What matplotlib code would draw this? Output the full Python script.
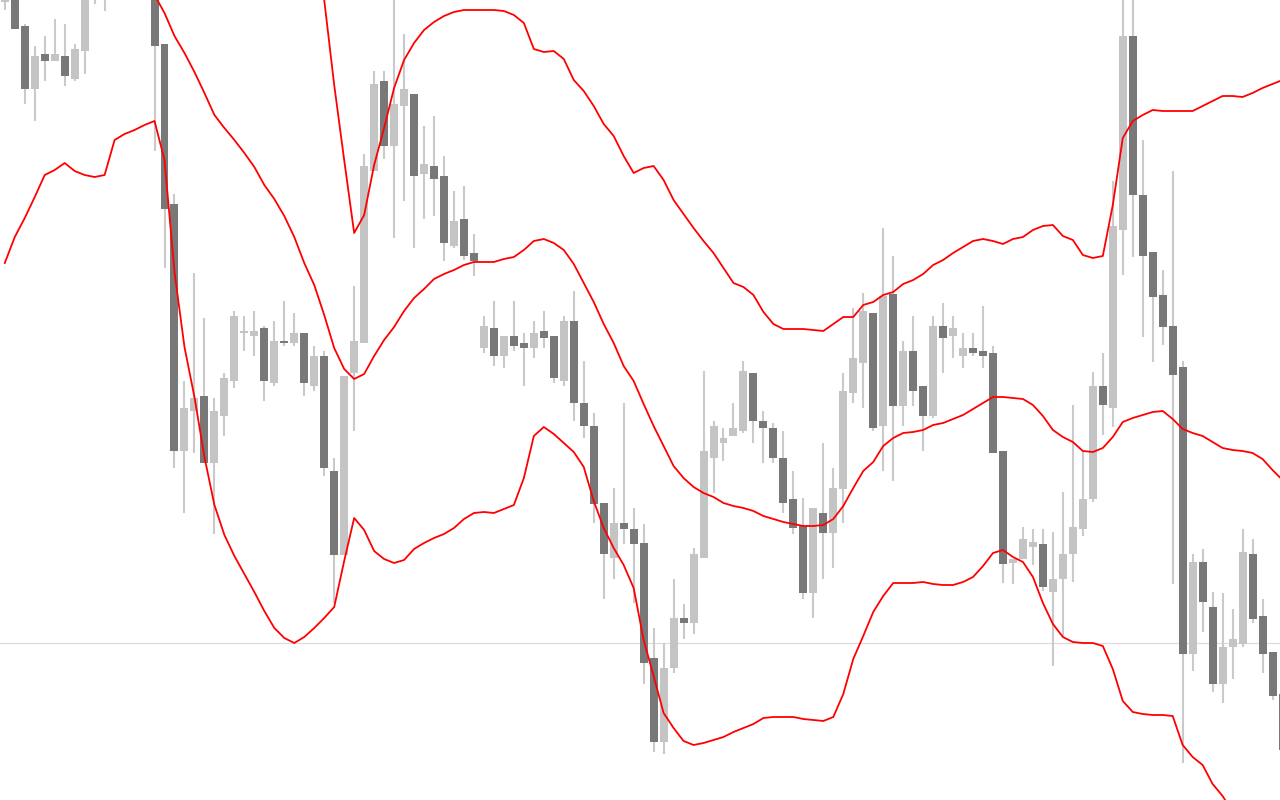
import numpy as np
import matplotlib
matplotlib.use('Agg')
from matplotlib import pyplot as plt

# OHLC per bar (price units, bar 0 at the left edge)
opens = [798, 820, 774, 711, 746, 739, 744, 721, 749, 805, 805, 830, 860, 850, 870,
         830, 756, 596, 349, 389, 404, 337, 384, 419, 467, 464, 472, 417, 459, 457,
         467, 414, 444, 329, 245, 427, 457, 629, 719, 654, 694, 706, 626, 634, 624,
         554, 581, 547, 452, 472, 444, 464, 457, 452, 469, 464, 419, 479, 397, 374,
         297, 242, 277, 271, 257, 142, 58, 132, 182, 177, 242, 342, 357, 364, 369,
         427, 379, 372, 342, 301, 274, 207, 287, 267, 311, 407, 437, 487, 374, 506,
         394, 449, 414, 384, 474, 464, 444, 452, 449, 447, 349, 237, 241, 253, 256,
         208, 221, 246, 271, 301, 414, 392, 570, 764, 605, 548, 505, 474, 433, 146,
         238, 193, 116, 153, 156, 246, 184, 148, 106]
highs = [810, 830, 776, 754, 764, 781, 776, 756, 820, 850, 840, 870, 880, 890, 880,
         840, 756, 606, 419, 527, 482, 402, 427, 489, 484, 489, 474, 479, 499, 487,
         467, 454, 449, 342, 424, 514, 646, 729, 729, 805, 766, 706, 674, 684, 644,
         609, 614, 566, 484, 499, 464, 499, 467, 479, 489, 464, 484, 509, 439, 387,
         297, 312, 397, 292, 276, 172, 157, 221, 196, 252, 429, 379, 372, 397, 439,
         427, 389, 377, 369, 329, 302, 292, 357, 332, 427, 492, 507, 487, 572, 544,
         459, 484, 414, 484, 497, 484, 467, 467, 494, 454, 349, 241, 273, 271, 271,
         268, 308, 395, 349, 428, 447, 619, 810, 810, 660, 548, 530, 629, 439, 246,
         251, 208, 207, 191, 271, 261, 201, 148, 106]
lows = [790, 771, 696, 679, 719, 739, 714, 719, 726, 796, 789, 810, 820, 830, 820,
        649, 532, 332, 287, 347, 337, 266, 364, 412, 449, 444, 399, 414, 454, 454,
        404, 409, 324, 197, 245, 369, 457, 629, 641, 562, 599, 552, 581, 584, 539,
        552, 540, 524, 447, 434, 432, 449, 414, 442, 452, 417, 414, 379, 362, 277,
        201, 221, 256, 197, 116, 48, 46, 127, 161, 166, 242, 307, 339, 364, 367,
        357, 337, 337, 287, 266, 201, 182, 221, 232, 277, 397, 392, 369, 329, 319,
        374, 394, 349, 382, 427, 442, 432, 444, 432, 347, 217, 216, 241, 235, 209,
        134, 163, 218, 264, 298, 365, 373, 525, 543, 463, 438, 455, 216, 37, 129,
        168, 108, 97, 121, 153, 177, 127, 100, 40]
closes = [803, 771, 711, 744, 739, 746, 724, 751, 815, 840, 830, 860, 850, 870, 840,
          754, 591, 349, 392, 402, 337, 389, 422, 484, 469, 469, 419, 459, 457, 467,
          417, 444, 332, 245, 424, 459, 634, 716, 654, 696, 711, 624, 636, 621, 557,
          579, 544, 539, 474, 444, 464, 454, 452, 467, 462, 422, 479, 397, 374, 296,
          246, 277, 271, 256, 137, 58, 132, 182, 177, 246, 349, 374, 362, 372, 429,
          379, 372, 342, 297, 272, 207, 292, 267, 312, 409, 442, 489, 372, 504, 394,
          449, 409, 384, 474, 462, 472, 452, 447, 444, 347, 236, 241, 261, 258, 213,
          221, 246, 273, 301, 414, 395, 574, 764, 605, 544, 503, 473, 425, 146, 238,
          198, 116, 153, 161, 248, 181, 146, 104, 50]

# Bollinger bands
lower_band = [537, 563, 582, 603, 625, 630, 637, 629, 625, 623, 625, 660, 666, 670, 675,
              679, 640, 528, 453, 403, 343, 295, 265, 244, 226, 208, 189, 172, 162, 157,
              163, 172, 182, 193, 239, 282, 270, 249, 241, 237, 240, 251, 257, 262, 266,
              272, 281, 287, 288, 287, 291, 295, 322, 364, 373, 366, 357, 348, 333, 299,
              272, 252, 235, 212, 160, 124, 87, 72, 59, 55, 57, 60, 63, 68, 72,
              76, 82, 83, 83, 83, 81, 80, 79, 83, 106, 141, 164, 188, 204, 217,
              217, 217, 218, 216, 215, 215, 218, 223, 234, 247, 250, 243, 238, 223, 197,
              176, 163, 158, 157, 157, 154, 131, 99, 88, 86, 85, 85, 84, 55, 43,
              35, 16, 4, -12, -25, -35, -45, -55, -65]
middle_start = 15
middle_band = [805, 787, 764, 747, 728, 707, 685, 672, 660, 647, 633, 615, 601, 584, 563,
               537, 515, 485, 452, 431, 421, 426, 444, 460, 473, 489, 502, 511, 521, 526,
               530, 535, 538, 538, 538, 541, 543, 550, 559, 561, 557, 550, 536, 517, 498,
               476, 457, 434, 419, 396, 374, 354, 334, 322, 313, 307, 303, 297, 294, 292,
               289, 284, 281, 278, 276, 274, 274, 275, 281, 294, 312, 329, 338, 354, 362,
               367, 368, 370, 375, 377, 381, 385, 391, 397, 403, 403, 402, 401, 395, 384,
               370, 363, 358, 349, 348, 352, 363, 378, 382, 385, 388, 389, 381, 371, 367,
               364, 358, 352, 350, 349, 347, 341, 330, 320]
upper_start = 31
upper_band = [830, 800, 715, 640, 567, 585, 635, 672, 712, 740, 757, 770, 778, 784, 788,
              790, 790, 790, 790, 789, 785, 777, 751, 748, 749, 741, 720, 709, 694, 676,
              664, 644, 627, 632, 634, 620, 600, 586, 572, 559, 547, 532, 517, 513, 505,
              488, 476, 471, 471, 471, 470, 469, 476, 483, 483, 495, 498, 505, 508, 516,
              520, 526, 535, 540, 547, 553, 559, 561, 559, 556, 561, 563, 570, 574, 575,
              564, 560, 545, 542, 544, 595, 662, 679, 685, 690, 689, 689, 689, 689, 694,
              699, 704, 704, 703, 707, 712, 716, 720]
ref_level = 157

o = np.array(opens); h = np.array(highs); l = np.array(lows); c = np.array(closes)
idx = np.arange(len(o))
up = c >= o

fig = plt.figure(figsize=(12.8, 8), dpi=100)
ax = fig.add_axes([0, 0, 1, 1])
ax.set_xlim(-0.48, 127.75)
ax.set_ylim(0, 800)
ax.axis('off')

ax.axhline(ref_level, color='#dcdcdc', lw=0.9, zorder=0)

# candles
ax.vlines(idx, l, h, color='#cacaca', lw=1.5, zorder=1)
body_lo = np.minimum(o, c)
body_h = np.maximum(np.abs(c - o), 1.5)
ax.bar(idx[up], body_h[up], bottom=body_lo[up], width=0.8, color='#c4c4c4', zorder=2)
ax.bar(idx[~up], body_h[~up], bottom=body_lo[~up], width=0.8, color='#787878', zorder=2)

# bands
ax.plot(idx, lower_band, color='#ff0000', lw=1.3, zorder=3)
ax.plot(np.arange(middle_start, middle_start + len(middle_band)), middle_band,
        color='#ff0000', lw=1.3, zorder=3)
ax.plot(np.arange(upper_start, upper_start + len(upper_band)), upper_band,
        color='#ff0000', lw=1.3, zorder=3)

plt.savefig('out.png', dpi=100, facecolor='white')
plt.close()
